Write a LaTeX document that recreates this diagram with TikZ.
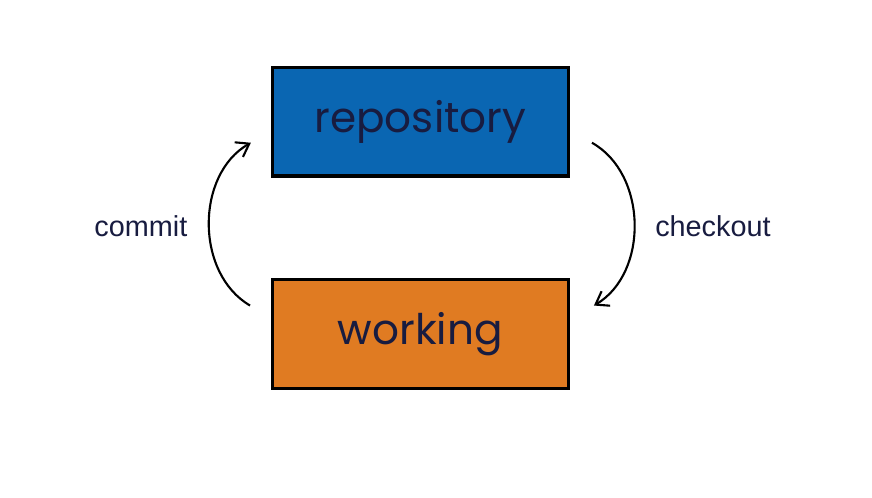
\documentclass[tikz,border=0pt]{standalone}
\usepackage{fontspec}
\setmainfont{Liberation Sans}
\newfontfamily\boxfont{Poppins}
\usetikzlibrary{positioning, arrows.meta}

\definecolor{repoblue}{HTML}{0A66B2}
\definecolor{workorange}{HTML}{E07B22}
\definecolor{inkblue}{HTML}{181C40}

\tikzset{
    stage/.style={draw=black, line width=2.2pt, minimum width=7.4cm, minimum height=2.72cm,
                  text=inkblue, font=\boxfont\fontsize{30}{36}\selectfont},
    flow/.style={line width=1.5pt, -{Straight Barb[length=3mm, width=4.2mm, line width=1.5pt]}},
    verb/.style={text=inkblue, font=\fontsize{20.5}{24}\selectfont, yshift=-0.06cm}
}

\begin{document}
\begin{tikzpicture}
    \useasboundingbox[fill=white] (0,0) rectangle (21.8,-12.45);

    \node[stage, fill=repoblue] (repo) at (10.51,-3.04) {repository};
    \node[stage, fill=workorange, below=2.52cm of repo] (work) {working};

    \coordinate (commit-from) at ([xshift=-0.52cm, yshift=-0.68cm]work.north west);
    \coordinate (commit-to) at ([xshift=-0.5cm, yshift=0.87cm]repo.south west);
    \coordinate (checkout-from) at ([xshift=0.55cm, yshift=0.87cm]repo.south east);
    \coordinate (checkout-to) at ([xshift=0.6cm, yshift=-0.68cm]work.north east);

    \draw[flow] (commit-from) to[bend left=60] node[midway, left=0.4cm, verb] (commit) {commit} (commit-to);
    \draw[flow] (checkout-from) to[bend left=60] node[midway, right=0.38cm, verb] (checkout) {checkout} (checkout-to);
\end{tikzpicture}
\end{document}
